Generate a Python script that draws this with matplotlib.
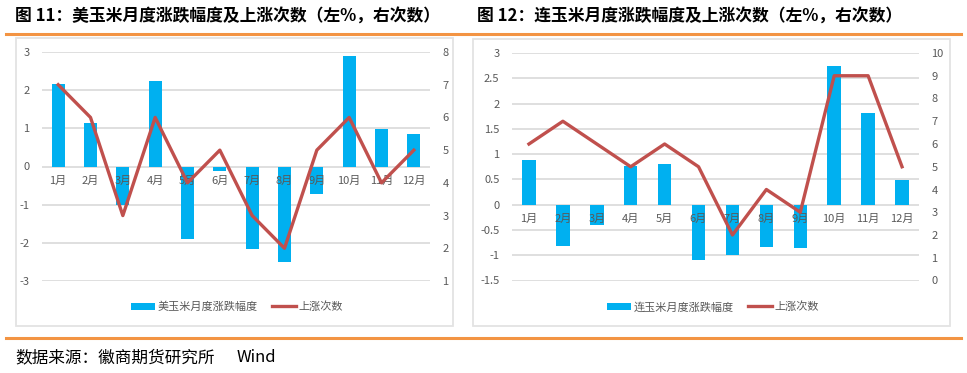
import numpy as np
import matplotlib.pyplot as plt
import matplotlib.transforms as mtransforms
from matplotlib.patches import Rectangle
from matplotlib.lines import Line2D

plt.rcParams['font.family'] = ['Noto Sans CJK SC', 'DejaVu Sans']

months = ['1月', '2月', '3月', '4月', '5月', '6月', '7月', '8月', '9月', '10月', '11月', '12月']

# 美玉米
us_pct = [2.15, 1.14, -1.01, 2.25, -1.91, -0.12, -2.17, -2.50, -0.73, 2.89, 0.97, 0.86]
us_up = [7, 6, 3, 6, 4, 5, 3, 2, 5, 6, 4, 5]
# 连玉米
dl_pct = [0.89, -0.81, -0.40, 0.77, 0.81, -1.09, -1.00, -0.84, -0.86, 2.75, 1.82, 0.48]
dl_up = [6, 7, 6, 5, 6, 5, 2, 4, 3, 9, 9, 5]

titles = ['图 11：美玉米月度涨跌幅度及上涨次数（左%，右次数）',
          '图 12：连玉米月度涨跌幅度及上涨次数（左%，右次数）']
bar_names = ['美玉米月度涨跌幅度', '连玉米月度涨跌幅度']
line_name = '上涨次数'

W, H = 967, 373
BLUE = '#00B0F0'
RED = '#C0504D'
GRID = '#D9D9D9'
TXT = '#595959'
ORANGE = '#F39443'

fig = plt.figure(figsize=(W / 100, H / 100), dpi=100)


def fx(px):
    return px / W


def fy(py):
    return 1 - py / H


def panel(frame, area, pct, up, pct_lim, pct_ticks, up_lim, up_ticks, bar_name, leg_x):
    # frame = (x0, y0, x1, y1) pixels, area = plot area pixels
    fig.patches.append(Rectangle((fx(frame[0]), fy(frame[3])), fx(frame[2] - frame[0]),
                                 (frame[3] - frame[1]) / H, transform=fig.transFigure,
                                 fill=False, edgecolor='#E3E3E3', lw=1.3))
    ax = fig.add_axes([fx(area[0]), fy(area[3]), fx(area[2] - area[0]), (area[3] - area[1]) / H])
    x = np.arange(len(months))
    bars = ax.bar(x, pct, width=0.4, color=BLUE, zorder=2)
    ax.set_xlim(-0.5, len(months) - 0.5)
    ax.set_ylim(*pct_lim)
    ax.set_yticks(pct_ticks)
    ax.set_yticklabels([('%g' % t) for t in pct_ticks])
    ax.yaxis.grid(True, color=GRID, lw=1.2)
    ax.set_axisbelow(True)
    ax.set_xticks([])
    for s in ax.spines.values():
        s.set_visible(False)
    ax.tick_params(axis='y', length=0, pad=9, labelsize=8, labelcolor=TXT)

    ax2 = ax.twinx()
    line, = ax2.plot(x, up, color=RED, lw=2.4, zorder=3)
    ax2.set_ylim(*up_lim)
    ax2.set_yticks(up_ticks)
    for s in ax2.spines.values():
        s.set_visible(False)
    ax2.tick_params(axis='y', length=0, pad=9, labelsize=8, labelcolor=TXT)

    # month labels sit just under the zero line, over the bars
    tr = mtransforms.offset_copy(ax.transData, fig=fig, y=-9, units='dots')
    for i, m in enumerate(months):
        ax2.text(i, 0, m, transform=tr, ha='center', va='top', fontsize=8,
                 color=TXT, zorder=2.5)

    ax2.legend([bars, line], [bar_name, line_name], loc='center',
               bbox_to_anchor=(fx(leg_x), fy(307)), bbox_transform=fig.transFigure,
               ncol=2, frameon=False, fontsize=8, labelcolor=TXT,
               handlelength=2.2, handletextpad=0.2, columnspacing=1.3)


panel((16, 38, 453, 326), (42, 52, 430, 281), us_pct, us_up,
      (-3, 3), np.arange(-3, 4, 1), (1, 8), np.arange(1, 9, 1), bar_names[0], 237)
panel((473, 39, 950, 326), (512, 53, 919, 280.5), dl_pct, dl_up,
      (-1.5, 3), np.arange(-1.5, 3.01, 0.5), (0, 10), np.arange(0, 11, 1), bar_names[1], 713)

# titles and orange rules
fig.text(fx(15), fy(16), titles[0], fontsize=12.1, fontweight='bold', va='center', ha='left')
fig.text(fx(477), fy(16), titles[1], fontsize=12.1, fontweight='bold', va='center', ha='left')
fig.lines.append(Line2D([fx(6), fx(961)], [fy(34), fy(34)], transform=fig.transFigure,
                        color=ORANGE, lw=2.2))
fig.lines.append(Line2D([fx(6), fx(961)], [fy(337.5), fy(337.5)], transform=fig.transFigure,
                        color=ORANGE, lw=2.2))

fig.text(fx(15), fy(358), '数据来源：徽商期货研究所', fontsize=12, va='center', ha='left')
fig.text(fx(237), fy(358), 'Wind', fontsize=12, va='center', ha='left')

fig.savefig('out.png', dpi=100)
